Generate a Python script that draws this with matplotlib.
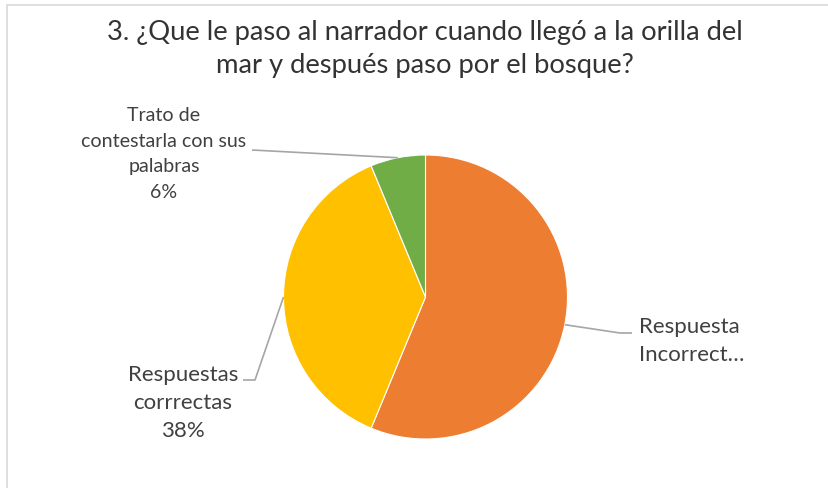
import matplotlib
matplotlib.use("Agg")
import numpy as np
import matplotlib.pyplot as plt
from matplotlib.patches import Rectangle

# data (counts: 56% / 38% / 6%)
categories = ["Respuesta\nIncorrect…", "Respuestas\ncorrrectas", "Trato de\ncontestarla con sus\npalabras"]
counts = [9, 6, 1]
colors = ["#ED7D31", "#FFC000", "#70AD47"]
show_pct = [False, True, True]   # the orange label is cut off in the original
title = "3. ¿Que le paso al narrador cuando llegó a la orilla del\nmar y después paso por el bosque?"

W, H = 829, 488
plt.rcParams["font.family"] = ["Lato", "DejaVu Sans"]
txt_color = "#404040"

fig = plt.figure(figsize=(W / 100, H / 100), dpi=100)
ax = fig.add_axes([0, 0, 1, 1])

# pie in pixel coords (y up)
cx, cy, r = 425.5, H - 297, 142
wedges, _ = ax.pie(counts, colors=colors, startangle=90, counterclock=False,
                   center=(cx, cy), radius=r,
                   wedgeprops=dict(edgecolor="white", linewidth=0.8))
ax.set_xlim(0, W)
ax.set_ylim(0, H)
ax.set_aspect("auto")
ax.axis("off")

# chart border (only top/left visible in the crop)
ax.add_patch(Rectangle((7, -10), W, H - 5 + 10, fill=False,
                       edgecolor="#d9d9d9", lw=1.2))

ax.text(424.5, H - 49, title, ha="center", va="center", fontsize=19.7,
        color="#333333", linespacing=1.37)

total = sum(counts)
labels = []
for c, n, p in zip(categories, counts, show_pct):
    labels.append(c + (f"\n{n / total * 100:.0f}%" if p else ""))

# label layout: text anchor, elbow point, fontsize, linespacing
layout = [
    dict(xy=(639, H - 341), ha="left", elbow=[(620, H - 333), (632, H - 333)], fs=16, ls=1.5),
    dict(xy=(183, H - 403), ha="center", elbow=[(255, H - 380), (243, H - 380)], fs=16, ls=1.5),
    dict(xy=(164, H - 154), ha="center", elbow=[(252, H - 150)], fs=14.1, ls=1.6),
]

for w, lab, lay in zip(wedges, labels, layout):
    mid = np.deg2rad((w.theta1 + w.theta2) / 2)
    ex, ey = cx + r * np.cos(mid), cy + r * np.sin(mid)
    pts = [(ex, ey)] + lay["elbow"]
    ax.plot([p[0] for p in pts], [p[1] for p in pts], color="#a6a6a6", lw=1.2,
            solid_capstyle="butt")
    ax.text(lay["xy"][0], lay["xy"][1], lab, ha=lay["ha"], va="center",
            fontsize=lay["fs"], color=txt_color, linespacing=lay["ls"],
            multialignment="center" if lay["ha"] == "center" else "left")

fig.savefig("out.png", dpi=100)
